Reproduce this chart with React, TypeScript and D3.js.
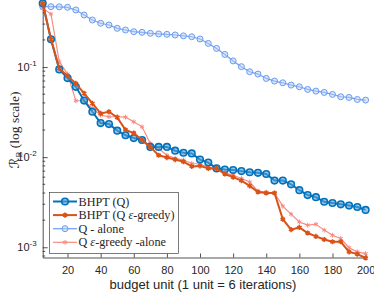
import { useEffect, useRef } from "react"
import * as d3 from "d3"

// budget units (x)
const budget = d3.range(5, 201, 5)

const bhptQ = [
  0.511, 0.203, 0.0942, 0.0755, 0.0604, 0.0425, 0.0319, 0.0239, 0.0233, 0.0197,
  0.0175, 0.0163, 0.0155, 0.013, 0.013, 0.013, 0.0118, 0.0112, 0.011, 0.0094,
  0.0087, 0.0075, 0.0073, 0.0072, 0.007, 0.0068, 0.0067, 0.0065, 0.0055, 0.0055,
  0.005, 0.0043, 0.0038, 0.0036, 0.0032, 0.0031, 0.003, 0.0029, 0.0028, 0.0026,
]

const bhptQeps = [
  0.511, 0.203, 0.0967, 0.0794, 0.0659, 0.0511, 0.0395, 0.0306, 0.0319, 0.0276,
  0.0201, 0.0185, 0.0155, 0.013, 0.0105, 0.0099, 0.0094, 0.0089, 0.0079, 0.008,
  0.0075, 0.0075, 0.0065, 0.006, 0.0055, 0.0048, 0.0041, 0.004, 0.004, 0.00205,
  0.00157, 0.00166, 0.00144, 0.00132, 0.00122, 0.00115, 0.00115, 0.00089, 0.00084, 0.00076,
]

const qAlone = [
  0.468, 0.468, 0.466, 0.46, 0.43, 0.378, 0.333, 0.306, 0.293, 0.269,
  0.258, 0.247, 0.243, 0.237, 0.233, 0.231, 0.227, 0.222, 0.217, 0.205,
  0.183, 0.161, 0.138, 0.117, 0.101, 0.0887, 0.0836, 0.0748, 0.0699, 0.0669,
  0.0631, 0.0604, 0.0565, 0.0541, 0.0523, 0.0497, 0.0468, 0.046, 0.0437, 0.043,
]

const qEpsAlone = [
  0.449, 0.388, 0.115, 0.0836, 0.0423, 0.0423, 0.0348, 0.0293, 0.0281, 0.0281,
  0.0278, 0.0247, 0.0217, 0.0142, 0.0125, 0.0105, 0.0097, 0.0093, 0.0085, 0.0084,
  0.0077, 0.0075, 0.0067, 0.0063, 0.0058, 0.0053, 0.0042, 0.0041, 0.004, 0.00286,
  0.00233, 0.00191, 0.00176, 0.0018, 0.00155, 0.00136, 0.00125, 0.00099, 0.00089, 0.00085,
]

const xTicks = [20, 40, 60, 80, 100, 120, 140, 160, 180, 200]
const yTicks = [1e-3, 1e-2, 1e-1]
const yTickExp = ["-3", "-2", "-1"]

export default function App() {
  const svgRef = useRef<SVGSVGElement>(null)

  useEffect(() => {
    if (!svgRef.current) return
    d3.select(svgRef.current).selectAll("*").remove()

    const width = 374
    const height = 293
    const left = 42.7
    const right = 365.6
    const bottom = 257.5
    const top = 3

    const svg = d3.select(svgRef.current).attr("width", width).attr("height", height)

    const x = d3.scaleLinear().domain([5, 200]).range([left, right])
    const y = d3.scaleLog().domain([7.7e-4, 0.514]).range([bottom, top])

    const axisColor = "#262626"

    // X axis
    const gx = svg
      .append("g")
      .attr("transform", `translate(0,${bottom})`)
      .call(d3.axisBottom(x).tickValues(xTicks).tickSizeInner(-4).tickSizeOuter(0).tickPadding(9))
    gx.select(".domain").attr("stroke", axisColor).attr("stroke-width", 0.8)
    gx.selectAll("line").attr("stroke", axisColor).attr("stroke-width", 0.8)
    gx.selectAll("text")
      .attr("font-family", "Liberation Sans, Arial, sans-serif")
      .attr("font-size", "11px")
      .attr("fill", axisColor)

    // Y axis (major)
    const gy = svg
      .append("g")
      .attr("transform", `translate(${left},0)`)
      .call(d3.axisLeft(y).tickValues(yTicks).tickSizeInner(-5).tickSizeOuter(0).tickFormat(() => ""))
    gy.select(".domain").attr("stroke", axisColor).attr("stroke-width", 0.8)
    gy.selectAll("line").attr("stroke", axisColor).attr("stroke-width", 0.8)

    // minor ticks
    const minor: number[] = []
    for (let e = -4; e <= 0; e++) {
      for (let m = 2; m <= 9; m++) {
        const v = m * Math.pow(10, e)
        if (v >= 7.7e-4 && v <= 0.514) minor.push(v)
      }
    }
    svg
      .append("g")
      .selectAll("line")
      .data(minor)
      .enter()
      .append("line")
      .attr("x1", left)
      .attr("x2", left + 2.5)
      .attr("y1", (d) => y(d))
      .attr("y2", (d) => y(d))
      .attr("stroke", axisColor)
      .attr("stroke-width", 0.8)

    // y tick labels with superscripts
    const yl = svg
      .append("g")
      .selectAll("text")
      .data(yTicks)
      .enter()
      .append("text")
      .attr("x", left - 6)
      .attr("y", (d) => y(d) + 4)
      .attr("text-anchor", "end")
      .attr("font-family", "Liberation Sans, Arial, sans-serif")
      .attr("font-size", "11px")
      .attr("fill", axisColor)
    yl.append("tspan").text("10")
    yl.append("tspan")
      .attr("dy", -5)
      .attr("font-size", "8px")
      .text((_, i) => yTickExp[i])

    // series
    const series = [
      { name: "bhptQ", values: bhptQ, color: "#0072BD", width: 2, marker: "circle" },
      { name: "bhptQeps", values: bhptQeps, color: "#D95319", width: 2, marker: "star" },
      { name: "qAlone", values: qAlone, color: "#6c9cf0", width: 1.2, marker: "circle" },
      { name: "qEpsAlone", values: qEpsAlone, color: "#f98a80", width: 1.2, marker: "star" },
    ]
    const drawOrder = [2, 3, 0, 1]

    const line = d3
      .line<number>()
      .x((_, i) => x(budget[i]))
      .y((d) => y(d))

    drawOrder.forEach((si) => {
      const s = series[si]
      const g = svg.append("g")
      g.append("path")
        .datum(s.values)
        .attr("fill", "none")
        .attr("stroke", s.color)
        .attr("stroke-width", s.width)
        .attr("d", line)
      if (s.marker === "circle") {
        g.selectAll("circle")
          .data(s.values)
          .enter()
          .append("circle")
          .attr("cx", (_, i) => x(budget[i]))
          .attr("cy", (d) => y(d))
          .attr("r", si === 0 ? 3.3 : 3)
          .attr("fill", si === 0 ? "#5aa0d6" : "#b9cff5")
          .attr("fill-opacity", si === 0 ? 0.6 : 0.5)
          .attr("stroke", s.color)
          .attr("stroke-width", si === 0 ? 1.6 : 1)
      } else {
        g.selectAll("path.m")
          .data(s.values)
          .enter()
          .append("path")
          .attr("class", "m")
          .attr("d", d3.symbol(d3.symbolAsterisk, si === 1 ? 18 : 16)())
          .attr("transform", (d, i) => `translate(${x(budget[i])},${y(d)})`)
          .attr("fill", "none")
          .attr("stroke", s.color)
          .attr("stroke-width", si === 1 ? 1.6 : 1)
      }
    })

    // legend
    const legendItems = [
      { si: 0, label: ["BHPT (Q)"] },
      { si: 1, label: ["BHPT (Q ", "ε", "-greedy)"] },
      { si: 2, label: ["Q - alone"] },
      { si: 3, label: ["Q ", "ε", "-greedy -alone"] },
    ]
    const lg = svg.append("g")
    lg.append("rect")
      .attr("x", 49.5)
      .attr("y", 192.5)
      .attr("width", 129)
      .attr("height", 61)
      .attr("fill", "white")
      .attr("stroke", "#262626")
      .attr("stroke-width", 0.6)
    legendItems.forEach((item, k) => {
      const s = series[item.si]
      const ly = 201.5 + k * 13.6
      lg.append("line")
        .attr("x1", 53)
        .attr("x2", 77)
        .attr("y1", ly)
        .attr("y2", ly)
        .attr("stroke", s.color)
        .attr("stroke-width", s.width)
      if (s.marker === "circle") {
        lg.append("circle")
          .attr("cx", 65)
          .attr("cy", ly)
          .attr("r", item.si === 0 ? 3.3 : 3)
          .attr("fill", item.si === 0 ? "#5aa0d6" : "#b9cff5")
          .attr("fill-opacity", item.si === 0 ? 0.6 : 0.5)
          .attr("stroke", s.color)
          .attr("stroke-width", item.si === 0 ? 1.6 : 1)
      } else {
        lg.append("path")
          .attr("d", d3.symbol(d3.symbolAsterisk, item.si === 1 ? 18 : 16)())
          .attr("transform", `translate(65,${ly})`)
          .attr("fill", "none")
          .attr("stroke", s.color)
          .attr("stroke-width", item.si === 1 ? 1.6 : 1)
      }
      const t = lg
        .append("text")
        .attr("x", 78.5)
        .attr("y", ly + 4)
        .attr("font-family", "Liberation Serif, Times New Roman, serif")
        .attr("font-size", "12.2px")
        .attr("fill", "#262626")
      item.label.forEach((part) => {
        t.append("tspan")
          .attr("font-style", part === "ε" ? "italic" : null)
          .text(part)
      })
    })

    // axis labels
    svg
      .append("text")
      .attr("x", 203)
      .attr("y", 289)
      .attr("text-anchor", "middle")
      .attr("font-family", "Liberation Sans, Arial, sans-serif")
      .attr("font-size", "13px")
      .attr("fill", axisColor)
      .text("budget unit (1 unit = 6 iterations)")

    const ylab = svg
      .append("text")
      .attr("transform", "translate(19,130) rotate(-90)")
      .attr("text-anchor", "middle")
      .attr("font-family", "Liberation Serif, Times New Roman, serif")
      .attr("font-size", "13.5px")
      .attr("fill", axisColor)
    ylab.append("tspan").attr("font-family", "DejaVu Sans, sans-serif").text("ℛ")
    ylab.append("tspan").attr("font-size", "9px").attr("dy", 3).text("B")
    ylab.append("tspan").attr("dy", -3).text(" (log scale)")
  }, [])

  return (
    <div style={{ position: "absolute", left: 0, top: 0, width: 374, height: 293 }}>
      <svg ref={svgRef} width={374} height={293}></svg>
    </div>
  )
}
